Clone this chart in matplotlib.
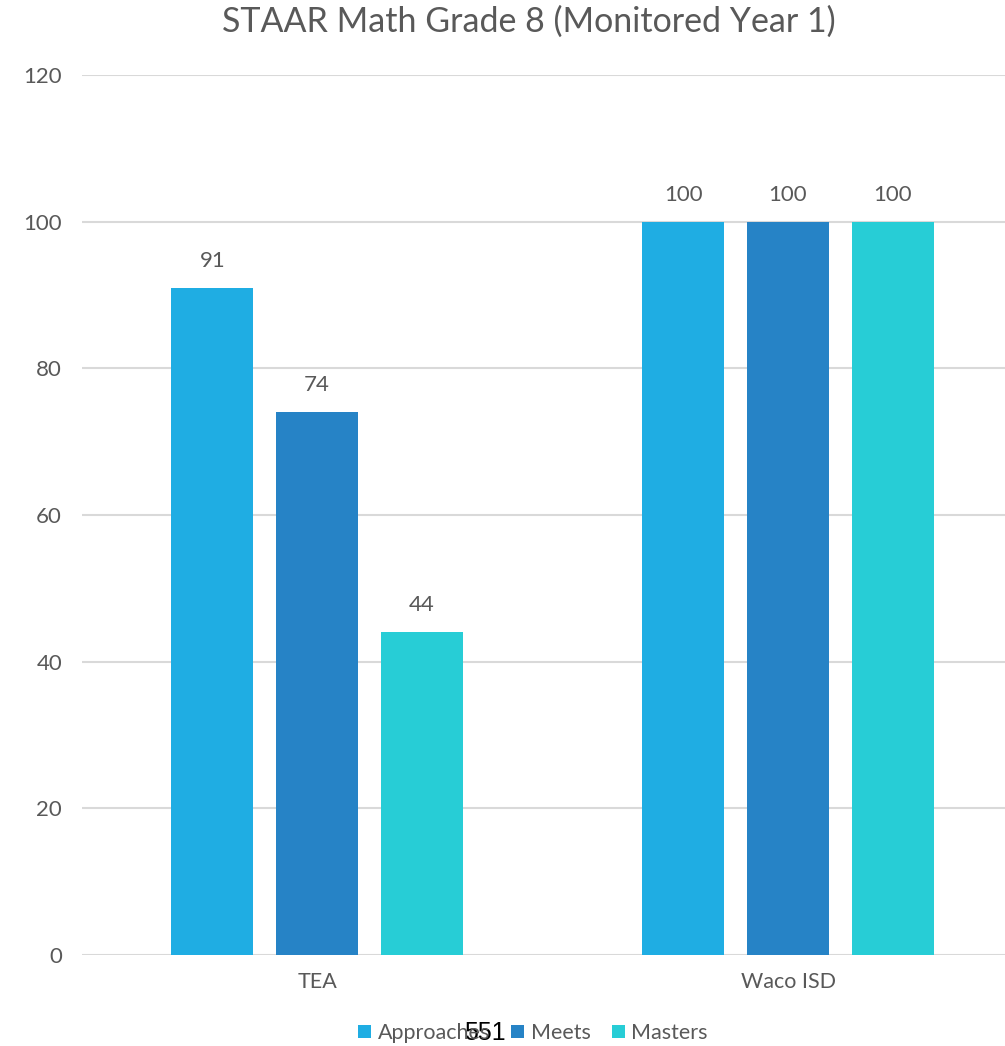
import matplotlib.pyplot as plt
import numpy as np

categories = ["TEA", "Waco ISD"]
series = ["Approaches", "Meets", "Masters"]
approaches = [91, 100]
meets = [74, 100]
masters = [44, 100]
colors = ["#1FADE3", "#2683C6", "#27CDD6"]

plt.rcParams["font.family"] = ["Lato", "DejaVu Sans"]
text_color = "#595959"

fig = plt.figure(figsize=(10.05, 10.46), dpi=100)
ax = fig.add_axes([81.5 / 1005, 91 / 1046, 942 / 1005, 880 / 1046])

x = np.arange(len(categories))
width = 0.174
step = 0.222
for i, (name, vals) in enumerate(zip(series, [approaches, meets, masters])):
    bars = ax.bar(x + (i - 1) * step, vals, width, color=colors[i], label=name, zorder=3)
    for b, v in zip(bars, vals):
        ax.text(b.get_x() + b.get_width() / 2, v + 2.3, f"{v}", ha="center", va="bottom",
                fontsize=16, color=text_color)

ax.set_xlim(-0.5, 1.5)
ax.set_ylim(0, 120)
ax.set_yticks(np.arange(0, 121, 20))
ax.yaxis.grid(True, color="#D9D9D9", linewidth=1.5, zorder=0)
ax.set_axisbelow(True)
for s in ax.spines.values():
    s.set_visible(False)
ax.tick_params(axis="y", length=0, labelsize=16, colors=text_color, pad=14)
ax.tick_params(axis="x", length=0, labelsize=15.5, colors=text_color, pad=12)
ax.set_xticks(x)
ax.set_xticklabels(categories)

fig.text(529 / 1005, 1 - 22 / 1046, "STAAR Math Grade 8 (Monitored Year 1)", ha="center", va="center",
         fontsize=24.5, color=text_color)

fig.legend(loc="center", bbox_to_anchor=(533 / 1005, 1 - 1033 / 1046), ncol=3, frameon=False,
           fontsize=15.5, labelcolor=text_color, handlelength=0.6, handleheight=0.6,
           handletextpad=0.3, columnspacing=1.0)

fig.text(485 / 1005, 1 - 1033 / 1046, "551", ha="center", va="center", fontsize=18,
         color="black", family=["Liberation Sans", "DejaVu Sans"])

fig.savefig("out.png", dpi=100)
